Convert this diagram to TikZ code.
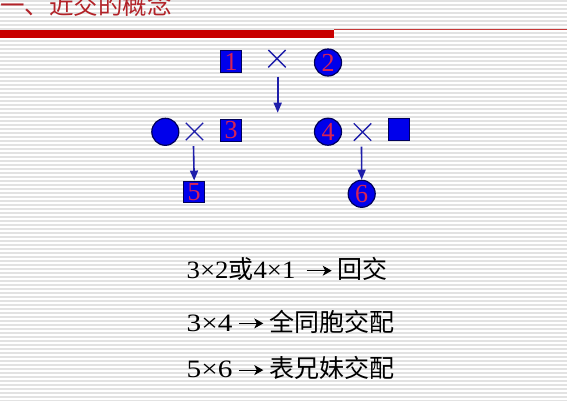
\documentclass[tikz,border=0pt]{standalone}
\usepackage{fontspec}
\setmainfont{Liberation Serif}
\newfontfamily\cjk{Noto Sans CJK SC}
\usetikzlibrary{arrows.meta,shapes.misc}
\definecolor{titlered}{RGB}{178,34,40}
\definecolor{barred}{RGB}{200,0,0}
\definecolor{numred}{RGB}{215,35,85}
\definecolor{shapeblue}{RGB}{0,0,235}
\definecolor{edgeblue}{RGB}{0,0,90}
\definecolor{lineblue}{RGB}{30,30,170}
\definecolor{stripe}{RGB}{226,226,226}
\newcommand\wideby[2]{\scalebox{#1}[1]{#2}}
\tikzset{
  sq/.style={rectangle, draw=edgeblue, line width=1pt, fill=shapeblue, minimum size=21.5pt, inner sep=0pt,
    text=numred, font=\fontsize{26}{26}\selectfont},
  ci/.style={circle, draw=edgeblue, line width=1.2pt, fill=shapeblue, minimum size=27pt, inner sep=0pt,
    text=numred, font=\fontsize{26}{26}\selectfont},
  crossmark/.style={cross out, draw=lineblue, line width=1.4pt, minimum size=16pt, inner sep=0pt},
  link/.style={draw=lineblue, line width=1.6pt, -{Triangle[width=8pt,length=10pt]}},
  txt/.style={anchor=base west, inner sep=0pt, font=\fontsize{25}{25}\selectfont},
  txtarrow/.style={draw=black, line width=1.2pt, -{Stealth[length=9pt,width=10pt,inset=2.5pt]}}
}
\begin{document}
\begin{tikzpicture}[x=1pt,y=-1pt]
\useasboundingbox (0,0) rectangle (567,400);
\fill[white] (0,0) rectangle (567,400);
\foreach \k in {0,...,100} {
  \draw[stripe, line width=1.3pt] (0,{\k*4+1}) -- (567,{\k*4+1});
}
% title
\node[anchor=base west, inner sep=0pt, text=titlered, font=\cjk\fontsize{24.5}{24.5}\selectfont] (title) at (0,14.5) {一、近交的概念};
\fill[barred] (0,29.6) rectangle (334,37.6);
\draw[red!55!gray, line width=0.8pt] (334,29.5) -- (567,29.5);
% generation 1
\node[sq] (n1) at (231,61.5) {1};
\node[crossmark] (x1) at (277,58.7) {};
\node[ci] (n2) at (328,62.5) {2};
\coordinate (a1) at (277.7,112.7);
\draw[link] (277.7,76.7) -- (a1);
% generation 2
\node[ci] (f) at (165.3,131.8) {};
\node[crossmark] (x2) at (194.5,131.5) {};
\node[sq] (n3) at (231,130.5) {3};
\node[ci] (n4) at (328,131.7) {4};
\node[crossmark] (x3) at (362.5,132) {};
\node[sq] (m) at (398.8,129.5) {};
% generation 3
\node[sq] (n5) at (194.2,191.8) {5};
\node[ci] (n6) at (361.7,193.8) {6};
\draw[link] (x2.south) ++(-1,6) -- (n5.north);
\draw[link] (x3.south) ++(-1,6) -- (n6.north);
% texts
\node[txt] (t1a) at (186.5,278.3) {\wideby{1.07}{3×2}{\cjk 或}\wideby{1.07}{4×1}};
\node[txt] (t1b) at (337.5,278.3) {\cjk 回交};
\coordinate (t1s) at (306.7,270.7);
\coordinate (t1e) at (331.7,270.7);
\draw[txtarrow] (t1s) -- (t1e);
\node[txt] (t2a) at (186.5,331) {\wideby{1.17}{3×4}};
\node[txt] (t2b) at (269,331) {\cjk 全同胞交配};
\coordinate (t2s) at (239.3,323.4);
\coordinate (t2e) at (263.3,323.4);
\draw[txtarrow] (t2s) -- (t2e);
\node[txt] (t3a) at (186.5,377.7) {\wideby{1.17}{5×6}};
\node[txt] (t3b) at (269,377.7) {\cjk 表兄妹交配};
\coordinate (t3s) at (239.3,370.1);
\coordinate (t3e) at (263.3,370.1);
\draw[txtarrow] (t3s) -- (t3e);
\end{tikzpicture}
\end{document}
